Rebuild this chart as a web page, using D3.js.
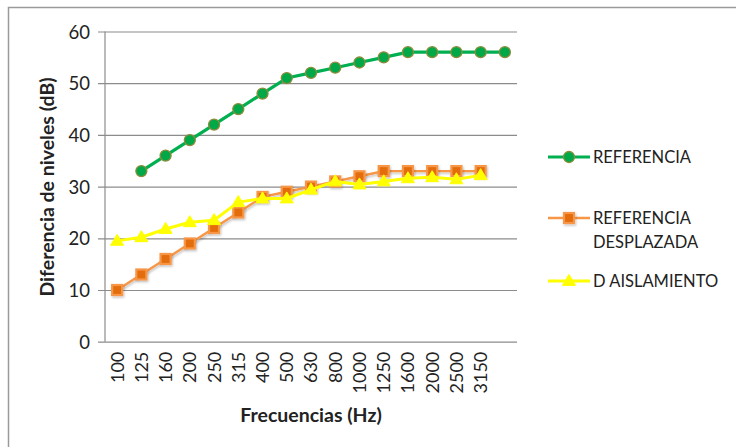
<!DOCTYPE html>
<html>
<head>
<meta charset="utf-8">
<script src="https://cdn.jsdelivr.net/npm/d3@7"></script>
<style>
  html, body { margin: 0; padding: 0; background: #fff; }
  svg { display: block; }
  text { font-family: Lato, "Open Sans", "Liberation Sans", sans-serif; fill: #222; }
</style>
</head>
<body>
<svg id="chart" width="736" height="447"></svg>
<script>
// Third-octave frequency bands (last slot has no label)
const categories = ["100","125","160","200","250","315","400","500","630","800","1000","1250","1600","2000","2500","3150",""];
const yTicks = [0, 10, 20, 30, 40, 50, 60];

const referencia = [null,33,36,39,42,45,48,51,52,53,54,55,56,56,56,56,56];
const referenciaDesplazada = [10,13,16,19,22,25,28,29,30,31,32,33,33,33,33,33,null];
const dAislamiento = [19.5,20.2,21.8,23.1,23.5,27,27.7,27.7,29.4,31,30.4,31,31.6,31.8,31.4,32.2,null];

const series = [
  { name: "REFERENCIA", lines: ["REFERENCIA"], values: referencia, stroke: "#00B050", width: 3.2,
    marker: "circle", fill: "#00A847", mstroke: "#8C8C3C", legendY: 157 },
  { name: "REFERENCIA DESPLAZADA", lines: ["REFERENCIA", "DESPLAZADA"], values: referenciaDesplazada, stroke: "#F79646", width: 2.4,
    marker: "square", fill: "#E36C0A", mstroke: "#F79646", legendY: 218 },
  { name: "D AISLAMIENTO", lines: ["D AISLAMIENTO"], values: dAislamiento, stroke: "#FFFF00", width: 3,
    marker: "triangle", fill: "#FFFF00", mstroke: "#FFFF00", legendY: 281 }
];

const svg = d3.select("#chart");

// chart frame
svg.append("rect").attr("x", 8.5).attr("y", 7.5).attr("width", 740).attr("height", 450)
  .attr("fill", "#fff").attr("stroke", "#9a9a9a").attr("stroke-width", 1.5);

const defs = svg.append("defs");
const shadow = defs.append("filter").attr("id", "soft").attr("x", "-50%").attr("y", "-50%").attr("width", "200%").attr("height", "200%");
shadow.append("feDropShadow").attr("dx", 1).attr("dy", 1.5).attr("stdDeviation", 1.2).attr("flood-color", "#000").attr("flood-opacity", 0.25);

const plot = { left: 105, right: 517, top: 31.5, bottom: 341.7 };

const x = d3.scaleBand().domain(categories.map((c, i) => i)).range([plot.left, plot.right]);
const y = d3.scaleLinear().domain([0, 60]).range([plot.bottom, plot.top]);
const cx = i => x(i) + x.bandwidth() / 2;

// horizontal gridlines with short outward ticks
const yAxis = d3.axisLeft(y).tickValues(yTicks).tickSize(-(plot.right - plot.left)).tickPadding(15);
const gy = svg.append("g").attr("transform", `translate(${plot.left},0)`).call(yAxis);
gy.select(".domain").remove();
gy.selectAll(".tick line").attr("stroke", "#8c8c8c").attr("stroke-width", 1.2).attr("x1", -7);
gy.selectAll(".tick text").attr("font-size", 18.5).style("fill", "#222")
  .attr("font-family", "Lato, 'Open Sans', sans-serif").attr("dy", "0.36em");

// vertical axis line
svg.append("line").attr("x1", plot.left).attr("x2", plot.left).attr("y1", plot.top).attr("y2", plot.bottom)
  .attr("stroke", "#8c8c8c").attr("stroke-width", 1.2);

// category labels, rotated
const xAxis = d3.axisBottom(x).tickFormat(i => categories[i]).tickSize(0).tickPadding(0);
const gx = svg.append("g").attr("transform", `translate(0,${plot.bottom})`).call(xAxis);
gx.select(".domain").remove();
gx.selectAll(".tick text")
  .attr("transform", "rotate(-90)")
  .attr("text-anchor", "end")
  .attr("x", -10).attr("y", 0).attr("dy", "0.36em")
  .attr("font-size", 18).style("fill", "#222")
  .attr("font-family", "Lato, 'Open Sans', sans-serif");

// axis titles
svg.append("text").attr("x", 311).attr("y", 422).attr("text-anchor", "middle")
  .attr("font-size", 19.5).attr("font-weight", "bold").text("Frecuencias (Hz)");
svg.append("text").attr("transform", "translate(54,187) rotate(-90)").attr("text-anchor", "middle")
  .attr("font-size", 19.5).attr("font-weight", "bold").text("Diferencia de niveles (dB)");

function drawMarker(g, type, px, py, s) {
  if (type === "circle") {
    g.append("circle").attr("cx", px).attr("cy", py).attr("r", s.r || 5.5)
      .attr("fill", s.fill).attr("stroke", s.mstroke).attr("stroke-width", 1.3);
  } else if (type === "square") {
    g.append("rect").attr("x", px - 5).attr("y", py - 5).attr("width", 10).attr("height", 10)
      .attr("fill", s.fill).attr("stroke", s.mstroke).attr("stroke-width", 2.2)
      .attr("filter", "url(#soft)");
  } else {
    const h = 11, w = 13;
    g.append("path").attr("d", `M${px},${py - h * 0.6}L${px + w / 2},${py + h * 0.4}L${px - w / 2},${py + h * 0.4}Z`)
      .attr("fill", s.fill).attr("stroke", s.mstroke).attr("stroke-width", 1);
  }
}

const line = d3.line().defined(d => d.v != null).x(d => cx(d.i)).y(d => y(d.v));

// orange first, then yellow, green on top
const order = [1, 2, 0];
order.forEach(k => {
  const s = series[k];
  const g = svg.append("g");
  const pts = s.values.map((v, i) => ({ v, i }));
  g.append("path").datum(pts).attr("d", line).attr("fill", "none")
    .attr("stroke", s.stroke).attr("stroke-width", s.width).attr("stroke-linejoin", "round")
    .attr("filter", s.marker === "square" ? "url(#soft)" : null);
  pts.filter(d => d.v != null).forEach(d => drawMarker(g, s.marker, cx(d.i), y(d.v), s));
});

// legend
series.forEach(s => {
  const g = svg.append("g");
  g.append("line").attr("x1", 548).attr("x2", 590).attr("y1", s.legendY).attr("y2", s.legendY)
    .attr("stroke", s.stroke).attr("stroke-width", s.width);
  drawMarker(g, s.marker, 569, s.legendY, s);
  s.lines.forEach((t, j) => {
    g.append("text").attr("x", 593).attr("y", s.legendY + j * 24).attr("dy", "0.36em")
      .attr("font-size", 16.5).text(t);
  });
});
</script>
</body>
</html>
